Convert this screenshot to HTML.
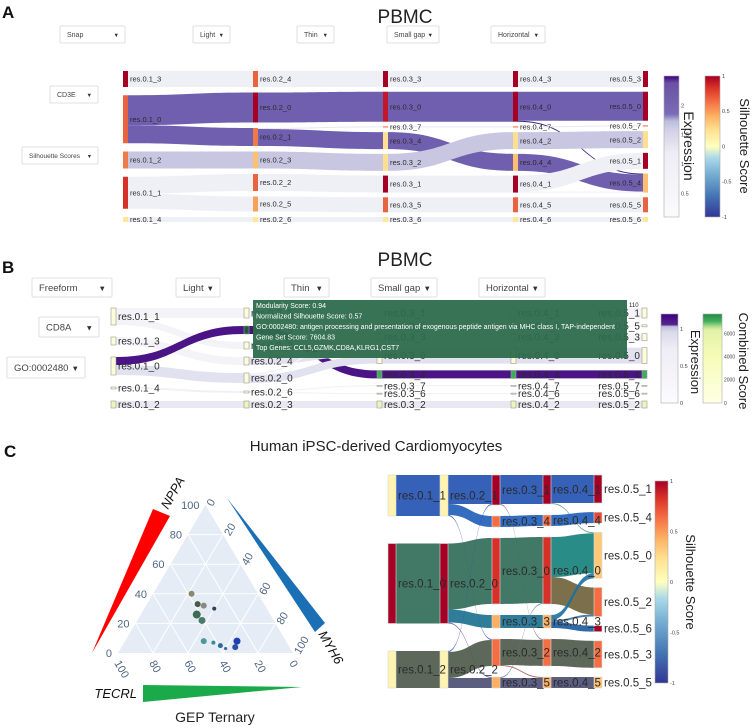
<!DOCTYPE html>
<html><head><meta charset="utf-8"><style>
html,body{margin:0;padding:0;background:#fff;}
svg{display:block;font-family:"Liberation Sans",sans-serif;}
</style></head><body>
<svg id="fig" width="752" height="728" viewBox="0 0 752 728" xmlns="http://www.w3.org/2000/svg">
<defs>
<linearGradient id="gExpA" x1="0" y1="1" x2="0" y2="0">
<stop offset="0" stop-color="#fbfbfd"/><stop offset="0.45" stop-color="#efedf5"/><stop offset="0.62" stop-color="#d2d0e6"/><stop offset="0.68" stop-color="#bcbddc"/><stop offset="0.73" stop-color="#7a6cb6"/><stop offset="0.95" stop-color="#6a51a3"/><stop offset="1" stop-color="#3f007d"/></linearGradient>
<linearGradient id="gSil" x1="0" y1="1" x2="0" y2="0">
<stop offset="0" stop-color="#313695"/><stop offset="0.15" stop-color="#4575b4"/><stop offset="0.3" stop-color="#74add1"/><stop offset="0.42" stop-color="#abd9e9"/><stop offset="0.5" stop-color="#ffffbf"/><stop offset="0.62" stop-color="#fee090"/><stop offset="0.72" stop-color="#fdae61"/><stop offset="0.82" stop-color="#f46d43"/><stop offset="0.92" stop-color="#d73027"/><stop offset="1" stop-color="#a50026"/></linearGradient>
<linearGradient id="gExpB" x1="0" y1="1" x2="0" y2="0">
<stop offset="0" stop-color="#fcfbfd"/><stop offset="0.6" stop-color="#efedf5"/><stop offset="0.8" stop-color="#dadaeb"/><stop offset="0.86" stop-color="#bcbddc"/><stop offset="0.88" stop-color="#54278f"/><stop offset="1" stop-color="#3f007d"/></linearGradient>
<linearGradient id="gComb" x1="0" y1="1" x2="0" y2="0">
<stop offset="0" stop-color="#ffffe5"/><stop offset="0.5" stop-color="#f7fcb9"/><stop offset="0.82" stop-color="#e3f2a8"/><stop offset="0.86" stop-color="#addd8e"/><stop offset="0.92" stop-color="#41ab5d"/><stop offset="1" stop-color="#238b45"/></linearGradient>
</defs>
</svg>
<script>
// ===== Panel A data =====
const aCols=[["res.0.1_3","res.0.1_0","res.0.1_2","res.0.1_1","res.0.1_4"],
["res.0.2_4","res.0.2_0","res.0.2_1","res.0.2_3","res.0.2_2","res.0.2_5","res.0.2_6"],
["res.0.3_3","res.0.3_0","res.0.3_7","res.0.3_4","res.0.3_2","res.0.3_1","res.0.3_5","res.0.3_6"],
["res.0.4_3","res.0.4_0","res.0.4_7","res.0.4_2","res.0.4_4","res.0.4_1","res.0.4_5","res.0.4_6"],
["res.0.5_3","res.0.5_0","res.0.5_7","res.0.5_2","res.0.5_1","res.0.5_4","res.0.5_5","res.0.5_6"]];
const aSrc=["res.0.1_3","res.0.1_0","res.0.1_0","res.0.1_2","res.0.1_1","res.0.1_1","res.0.1_4",
"res.0.2_4","res.0.2_0","res.0.2_1","res.0.2_1","res.0.2_3","res.0.2_2","res.0.2_5","res.0.2_6",
"res.0.3_3","res.0.3_0","res.0.3_7","res.0.3_4","res.0.3_2","res.0.3_1","res.0.3_5","res.0.3_6",
"res.0.4_3","res.0.4_0","res.0.4_0","res.0.4_7","res.0.4_2","res.0.4_4","res.0.4_1","res.0.4_1","res.0.4_5","res.0.4_6"];
const aTgt=["res.0.2_4","res.0.2_0","res.0.2_1","res.0.2_3","res.0.2_2","res.0.2_5","res.0.2_6",
"res.0.3_3","res.0.3_0","res.0.3_7","res.0.3_4","res.0.3_2","res.0.3_1","res.0.3_5","res.0.3_6",
"res.0.4_3","res.0.4_0","res.0.4_7","res.0.4_4","res.0.4_2","res.0.4_1","res.0.4_5","res.0.4_6",
"res.0.5_3","res.0.5_0","res.0.5_4","res.0.5_7","res.0.5_2","res.0.5_4","res.0.5_1","res.0.5_4","res.0.5_5","res.0.5_6"];
const aVal=[16,30,18,17,17,15,5, 16,30,1,17,17,17,15,5, 16,30,1,17,17,17,15,5, 16,29,1,1,17,17,16,1,15,5];
const aLinkCol=["#efeff6","#6f5fae","#6f5fae","#c9c6e2","#efeff6","#efeff6","#efeff6",
"#efeff6","#6f5fae","#e8e6f2","#6f5fae","#c9c6e2","#efeff6","#efeff6","#efeff6",
"#efeff6","#6f5fae","#e8e6f2","#6f5fae","#c9c6e2","#efeff6","#efeff6","#efeff6",
"#efeff6","#6f5fae","#3a2a80","#e8e6f2","#c9c6e2","#6f5fae","#efeff6","#efeff6","#efeff6","#efeff6"];
const aNodeCol={"res.0.1_3":"#a50026","res.0.1_0":"#e8643f","res.0.1_2":"#ee7a4a","res.0.1_1":"#d73027","res.0.1_4":"#fee79a",
"res.0.2_4":"#e8643f","res.0.2_0":"#a50026","res.0.2_1":"#ee7a4a","res.0.2_3":"#fdc070","res.0.2_2":"#e8643f","res.0.2_5":"#f9a05a","res.0.2_6":"#fee79a",
"res.0.3_3":"#a50026","res.0.3_0":"#c0182a","res.0.3_7":"#e8643f","res.0.3_4":"#fee090","res.0.3_2":"#fee090","res.0.3_1":"#a50026","res.0.3_5":"#e8643f","res.0.3_6":"#fee79a",
"res.0.4_3":"#a50026","res.0.4_0":"#a50026","res.0.4_7":"#e8643f","res.0.4_2":"#fee090","res.0.4_4":"#fdc070","res.0.4_1":"#a50026","res.0.4_5":"#e8643f","res.0.4_6":"#fee79a",
"res.0.5_3":"#a50026","res.0.5_0":"#a50026","res.0.5_7":"#e8643f","res.0.5_2":"#fee090","res.0.5_1":"#a50026","res.0.5_4":"#fdc070","res.0.5_5":"#e8643f","res.0.5_6":"#fee79a"};

// ===== Panel B data =====
const bCols=[["res.0.1_1","res.0.1_3","res.0.1_0","res.0.1_4","res.0.1_2"],
["res.0.2_1","res.0.2_5","res.0.2_2","res.0.2_4","res.0.2_0","res.0.2_6","res.0.2_3"],
["res.0.3_1","res.0.3_5","res.0.3_3","res.0.3_0","res.0.3_4","res.0.3_7","res.0.3_6","res.0.3_2"],
["res.0.4_1","res.0.4_5","res.0.4_3","res.0.4_0","res.0.4_4","res.0.4_7","res.0.4_6","res.0.4_2"],
["res.0.5_1","res.0.5_5","res.0.5_3","res.0.5_0","res.0.5_4","res.0.5_7","res.0.5_6","res.0.5_2"]];
const bSrc=["res.0.1_1","res.0.1_1","res.0.1_3","res.0.1_0","res.0.1_0","res.0.1_4","res.0.1_2",
"res.0.2_1","res.0.2_5","res.0.2_2","res.0.2_4","res.0.2_0","res.0.2_0","res.0.2_6","res.0.2_6","res.0.2_3",
"res.0.3_1","res.0.3_5","res.0.3_3","res.0.3_0","res.0.3_4","res.0.3_7","res.0.3_6","res.0.3_2",
"res.0.4_1","res.0.4_5","res.0.4_3","res.0.4_0","res.0.4_4","res.0.4_7","res.0.4_6","res.0.4_2"];
const bTgt=["res.0.2_1","res.0.2_2","res.0.2_4","res.0.2_5","res.0.2_0","res.0.2_6","res.0.2_3",
"res.0.3_1","res.0.3_4","res.0.3_3","res.0.3_0","res.0.3_0","res.0.3_5","res.0.3_7","res.0.3_6","res.0.3_2",
"res.0.4_1","res.0.4_5","res.0.4_3","res.0.4_0","res.0.4_4","res.0.4_7","res.0.4_6","res.0.4_2",
"res.0.5_1","res.0.5_5","res.0.5_3","res.0.5_0","res.0.5_4","res.0.5_7","res.0.5_6","res.0.5_2"];
const bVal=[10,7,8,8,10,2,7, 10,8,7,8,8,2,1,1,7, 10,2,7,16,8,1,1,7, 10,2,7,16,8,1,1,7];
const bLinkCol=["#f3f3f8","#f3f3f8","#f3f3f8","#4a1486","#e2e1ef","#f0f0f6","#e9e8f2",
"#f3f3f8","#4a1486","#f3f3f8","#e2e1ef","#e2e1ef","#f3f3f8","#f0f0f6","#f0f0f6","#e9e8f2",
"#f3f3f8","#f3f3f8","#f3f3f8","#e2e1ef","#4a1486","#f0f0f6","#f0f0f6","#e9e8f2",
"#f3f3f8","#f3f3f8","#f3f3f8","#e2e1ef","#4a1486","#f0f0f6","#f0f0f6","#e9e8f2"];
const bNodeCol={"res.0.1_2":"#eef5b8","res.0.2_3":"#eef5b8","res.0.3_2":"#eef5b8","res.0.4_2":"#eef5b8","res.0.5_2":"#eef5b8",
"res.0.2_5":"#1e5a3a","res.0.3_4":"#41ab5d","res.0.4_4":"#41ab5d","res.0.5_4":"#41ab5d"};

// ===== Panel C sankey data =====
const cCols=[["res.0.1_1","res.0.1_0","res.0.1_2"],["res.0.2_1","res.0.2_0","res.0.2_2"],
["res.0.3_1","res.0.3_4","res.0.3_0","res.0.3_3","res.0.3_2","res.0.3_5"],
["res.0.4_1","res.0.4_4","res.0.4_0","res.0.4_3","res.0.4_2","res.0.4_5"],
["res.0.5_1","res.0.5_4","res.0.5_0","res.0.5_2","res.0.5_6","res.0.5_3","res.0.5_5"]];
const cSrc=["res.0.1_1","res.0.1_0","res.0.1_2",
"res.0.2_1","res.0.2_1","res.0.2_1","res.0.2_0","res.0.2_0","res.0.2_0","res.0.2_2","res.0.2_2","res.0.2_2",
"res.0.3_1","res.0.3_1","res.0.3_4","res.0.3_0","res.0.3_3","res.0.3_2","res.0.3_2","res.0.3_5","res.0.3_5",
"res.0.4_1","res.0.4_1","res.0.4_4","res.0.4_0","res.0.4_0","res.0.4_3","res.0.4_3","res.0.4_3","res.0.4_2","res.0.4_5"];
const cTgt=["res.0.2_1","res.0.2_0","res.0.2_2",
"res.0.3_1","res.0.3_4","res.0.3_2","res.0.3_0","res.0.3_3","res.0.3_5","res.0.3_2","res.0.3_5","res.0.3_1",
"res.0.4_1","res.0.4_2","res.0.4_4","res.0.4_0","res.0.4_3","res.0.4_2","res.0.4_5","res.0.4_5","res.0.4_0",
"res.0.5_1","res.0.5_0","res.0.5_4","res.0.5_0","res.0.5_2","res.0.5_0","res.0.5_6","res.0.5_2","res.0.5_3","res.0.5_5"];
const cVal=[41,80,37, 29,11,1,66,13,1,26,10,1, 29,1,11,66,13,26,1,10,1, 28,1,11,40,27,5,6,2,27,11];
const cLinkCol=["#2050b0","#2d6a55","#4b5848",
"#2050b0","#1e5cb8","#3a50c0","#2d6a55","#1a6f8f","#6a5a9a","#4b5848","#4a4d72","#3040c0",
"#2050b0","#8a6a7a","#1e5cb8","#2d6a55","#1a6f8f","#4b5848","#a0605a","#4a4d72","#6a7a9a",
"#2050b0","#60a080","#1e5cb8","#13807a","#6e6038","#1a70a0","#1a5aa0","#3a70a0","#4b5848","#4a4d72"];
const cNodeCol={"res.0.1_1":"#fff3b0","res.0.1_0":"#a50026","res.0.1_2":"#fff3b0",
"res.0.2_1":"#fff3b0","res.0.2_0":"#a50026","res.0.2_2":"#fff3b0",
"res.0.3_1":"#a50026","res.0.3_4":"#f46d43","res.0.3_0":"#d73027","res.0.3_3":"#fdae61","res.0.3_2":"#f46d43","res.0.3_5":"#fdae61",
"res.0.4_1":"#a50026","res.0.4_4":"#f46d43","res.0.4_0":"#d73027","res.0.4_3":"#fdae61","res.0.4_2":"#f46d43","res.0.4_5":"#fdae61",
"res.0.5_1":"#a50026","res.0.5_4":"#e34a33","res.0.5_0":"#fdc878","res.0.5_2":"#f46d43","res.0.5_6":"#a50026","res.0.5_3":"#f46d43","res.0.5_5":"#fdc070"};

// ===== Ternary data =====
const tNPPA=[40,33,32,30,26,22,8,7,5,3,8,4];
const tMYH6=[22,29,33,40,32,37,45,51,56,60,64,65];
const tTECRL=[38,38,35,30,42,41,47,42,39,37,28,31];
const tSize=[3,3,3,2,4,3.5,3,2,2.5,1.6,3.5,3];
const tColor=["#8a8a6a","#4a5a48","#8a8a80","#3a3a5a","#3d6b50","#4a7a68","#4a9a9a","#3a8a9a","#2a6aa0","#3a6aa0","#2040b0","#2a50a0"];
const tTicks=[0,20,40,60,80,100];

const NS='http://www.w3.org/2000/svg';
const svg=document.getElementById('fig');
function el(tag,attrs,parent){const e=document.createElementNS(NS,tag);for(const k in attrs)e.setAttribute(k,attrs[k]);(parent||svg).appendChild(e);return e;}
function txt(x,y,s,fs,attrs,parent){const t=el('text',Object.assign({x:x,y:y,'font-size':fs,fill:'#333'},attrs||{}),parent);t.textContent=s;return t;}

function dropdown(x,y,w,h,label,fs){
  const g=el('g',{});
  
  
  el('rect',{x:x,y:y,width:w,height:h,fill:'#fff',stroke:'#d8d8d8','stroke-width':0.8,rx:1},g);
  txt(x+7,y+h/2+fs*0.35,label,fs,{fill:'#444'},g);
  txt(x+w-6,y+h/2+fs*0.35,'▼',fs*0.8,{fill:'#333','text-anchor':'end'},g);
}

function sankey(name,cols,src,tgt,val,linkCol,nodeCol,defCol,xs,y0,y1,nw,fs,lastLeft,stroke,op){
  const g=el('g',{});
  
  
  const ins={},outs={},pos={};
  src.forEach((s,i)=>{outs[s]=(outs[s]||0)+val[i];ins[tgt[i]]=(ins[tgt[i]]||0)+val[i];});
  cols.forEach((col,ci)=>{
    const v=col.map(n=>Math.max(ins[n]||0,outs[n]||0));
    const sum=v.reduce((a,b)=>a+b,0);
    const gap=col.length>1?(y1-y0-sum)/(col.length-1):0;
    let y=y0;
    col.forEach((n,ni)=>{pos[n]={x:xs[ci],y:y,h:v[ni],ci:ci,ni:ni};y+=v[ni]+gap;});
  });
  const idx=src.map((s,i)=>i);
  const so={},to={};
  const oUsed={},iUsed={};
  [...idx].sort((a,b)=>pos[tgt[a]].ni-pos[tgt[b]].ni).forEach(i=>{const s=src[i];so[i]=oUsed[s]||0;oUsed[s]=so[i]+val[i];});
  [...idx].sort((a,b)=>pos[src[a]].ni-pos[src[b]].ni).forEach(i=>{const t=tgt[i];to[i]=iUsed[t]||0;iUsed[t]=to[i]+val[i];});
  const lg=el('g',{},g);
  idx.forEach(i=>{
    const s=pos[src[i]],t=pos[tgt[i]];
    const x0=s.x+nw,x1=t.x,xm=(x0+x1)/2;
    const a0=s.y+so[i],a1=a0+val[i],b0=t.y+to[i],b1=b0+val[i];
    const p=el('path',{d:`M${x0},${a0}C${xm},${a0} ${xm},${b0} ${x1},${b0}L${x1},${b1}C${xm},${b1} ${xm},${a1} ${x0},${a1}Z`,fill:linkCol[i],'fill-opacity':op},lg);
    
    
  });
  cols.forEach((col,ci)=>col.forEach(n=>{
    const q=pos[n];
    const r=el('rect',{x:q.x,y:q.y,width:nw,height:Math.max(q.h,1),fill:nodeCol[n]||defCol,stroke:stroke,'stroke-width':0.6},g);
    
    
  }));
  cols.forEach((col,ci)=>col.forEach(n=>{
    const q=pos[n];
    const last=ci===cols.length-1;
    const lx=(last&&lastLeft)?q.x-2:q.x+nw+2;
    const t=txt(lx,q.y+q.h/2+fs*0.35,n,fs,{'text-anchor':(last&&lastLeft)?'end':'start',fill:'#2a2a2a'},g);
    
    
  }));
}

function colorbar(name,x,y,w,h,grad,ticks,tickLabels,vmin,vmax,fs){
  const g=el('g',{});
  
  
  el('rect',{x:x,y:y,width:w,height:h,fill:'url(#'+grad+')',stroke:'#aaa','stroke-width':0.6},g);
  ticks.forEach((v,i)=>{const yy=y+h-(v-vmin)/(vmax-vmin)*h;txt(x+w+2,yy+fs*0.35,tickLabels[i],fs,{fill:'#444'},g);});
}

// ---------- Panel letters & titles ----------
let t;
t=txt(2,18,'A',17,{'font-weight':'bold',fill:'#111'});
t=txt(2,273,'B',17,{'font-weight':'bold',fill:'#111'});
t=txt(4,457,'C',17,{'font-weight':'bold',fill:'#111'});
t=txt(405,23,'PBMC',19,{'text-anchor':'middle',fill:'#222'});
t=txt(405,266,'PBMC',19,{'text-anchor':'middle',fill:'#222'});
t=txt(376,451,'Human iPSC-derived Cardiomyocytes',15,{'text-anchor':'middle',fill:'#222'});

// ---------- Panel A ----------
dropdown(60,26,65,17,'Snap',7);dropdown(193,26,37,17,'Light',7);dropdown(297,26,37,17,'Thin',7);
dropdown(387,26,52,17,'Small gap',7);dropdown(491,26,54,17,'Horizontal',7);
dropdown(50,86,48,17,'CD3E',7);dropdown(22,147,76,17,'Silhouette Scores',6.5);
sankey('sankey-a',aCols,aSrc,aTgt,aVal,aLinkCol,aNodeCol,'#ccc',[123,253,383,513,643],71,222,5,7.5,true,'none',1);
colorbar('expression-colorbar-a',664,76,15,141,'gExpA',[0.5,1,1.5,2],['0.5','1','1.5','2'],0.1,2.5,5.5);
colorbar('silhouette-colorbar-a',705,76,15,141,'gSil',[-1,-0.5,0,0.5,1],['-1','-0.5','0','0.5','1'],-1,1,5.5);
t=txt(0,0,'Expression',14,{transform:'translate(684,146) rotate(90)','text-anchor':'middle',fill:'#222'});
t=txt(0,0,'Silhouette Score',13,{transform:'translate(740,146) rotate(90)','text-anchor':'middle',fill:'#222'});

// ---------- Panel B ----------
dropdown(32,278,80,19,'Freeform',9.5);dropdown(176,278,44,19,'Light',9.5);dropdown(284,278,45,19,'Thin',9.5);
dropdown(371,278,66,19,'Small gap',9.5);dropdown(479,278,66,19,'Horizontal',9.5);
dropdown(39,317,60,20,'CD8A',9.5);dropdown(7,357,78,21,'GO:0002480',9.5);
sankey('sankey-b',bCols,bSrc,bTgt,bVal,bLinkCol,bNodeCol,'#fbfdd8',[111,244,377,511,642],308,408,5,10,true,'#999',1);
(function(){
  const g=el('g',{});
  
  
  el('rect',{x:253,y:300,width:374,height:58,fill:'#2e6b4c','fill-opacity':0.95},g);
  const lines=['Modularity Score: 0.94','Normalized Silhouette Score: 0.57','GO:0002480: antigen processing and presentation of exogenous peptide antigen via MHC class I, TAP-independent','Gene Set Score: 7604.83','Top Genes: CCL5,GZMK,CD8A,KLRG1,CST7'];
  lines.forEach((s,i)=>txt(256,308+i*10.5,s,7,{fill:'#fff'},g));
  txt(629,307,'110',6,{fill:'#222'},g);
})();
colorbar('expression-colorbar-b',661,314,17,89,'gExpB',[0,0.5,1],['0','0.5','1'],0,1.2,5.5);
colorbar('combined-score-colorbar-b',703,314,19,89,'gComb',[0,2000,4000,6000],['0','2000','4000','6000'],0,7700,5);
t=txt(0,0,'Expression',13,{transform:'translate(691,362) rotate(90)','text-anchor':'middle',fill:'#222'});
t=txt(0,0,'Combined Score',13,{transform:'translate(739,361) rotate(90)','text-anchor':'middle',fill:'#222'});

// ---------- Panel C: ternary ----------
(function(){
  const g=el('g',{});
  
  
  const L=[118,653],W=175,Hh=148;
  function P(a,b){return [L[0]+W*(b+a/2),L[1]-Hh*a];}
  el('polygon',{points:'92,653 153,509 170,516',fill:'#ff0000'},g);
  el('polygon',{points:'227,498 315,632 325,623',fill:'#1a6fb5'},g);
  el('polygon',{points:'143,685 143,702 302,687',fill:'#1aaa4a'},g);
  el('polygon',{points:[P(1,0),P(0,1),P(0,0)].map(p=>p.join(',')).join(' '),fill:'#e5ecf6'},g);
  [0.2,0.4,0.6,0.8].forEach(f=>{
    let p1=P(f,0),p2=P(f,1-f);el('line',{x1:p1[0],y1:p1[1],x2:p2[0],y2:p2[1],stroke:'#fff','stroke-width':1},g);
    p1=P(0,f);p2=P(1-f,f);el('line',{x1:p1[0],y1:p1[1],x2:p2[0],y2:p2[1],stroke:'#fff','stroke-width':1},g);
    p1=P(0,1-f);p2=P(1-f,0);el('line',{x1:p1[0],y1:p1[1],x2:p2[0],y2:p2[1],stroke:'#fff','stroke-width':1},g);
  });
  tTicks.forEach(v=>{
    const f=v/100;
    let p=P(f,0);txt(p[0]-6,p[1]+4,String(v),11,{'text-anchor':'end',fill:'#506784'},g);
    p=P(1-f,f);txt(0,0,String(v),11,{transform:`translate(${p[0]+7},${p[1]+2}) rotate(-60)`,fill:'#506784'},g);
    p=P(0,1-f);txt(0,0,String(v),11,{transform:`translate(${p[0]-4},${p[1]+10}) rotate(60)`,fill:'#506784'},g);
  });
  tNPPA.forEach((a,i)=>{
    const s=a+tMYH6[i]+tTECRL[i];
    const p=P(a/s,tMYH6[i]/s);
    const c=el('circle',{cx:p[0],cy:p[1],r:tSize[i],fill:tColor[i]},g);
    
    
  });
  txt(0,0,'NPPA',13,{transform:'translate(168,510) rotate(-60)','font-style':'italic',fill:'#111'},g);
  txt(0,0,'MYH6',13,{transform:'translate(318,634) rotate(60)','font-style':'italic',fill:'#111'},g);
  txt(137,698,'TECRL',13,{'text-anchor':'end','font-style':'italic',fill:'#111'},g);
  txt(215,722,'GEP Ternary',14,{'text-anchor':'middle',fill:'#222'},g);
})();

// ---------- Panel C: sankey ----------
sankey('sankey-c',cCols,cSrc,cTgt,cVal,cLinkCol,cNodeCol,'#ccc',[388,440,492,543,594],475,688,8,11.5,false,'#ddd',0.9);
colorbar('silhouette-colorbar-c',655,481,13,202,'gSil',[-1,-0.5,0,0.5,1],['-1','-0.5','0','0.5','1'],-1,1,5.5);
t=txt(0,0,'Silhouette Score',13,{transform:'translate(686,582) rotate(90)','text-anchor':'middle',fill:'#222'});
</script>
</body></html>
